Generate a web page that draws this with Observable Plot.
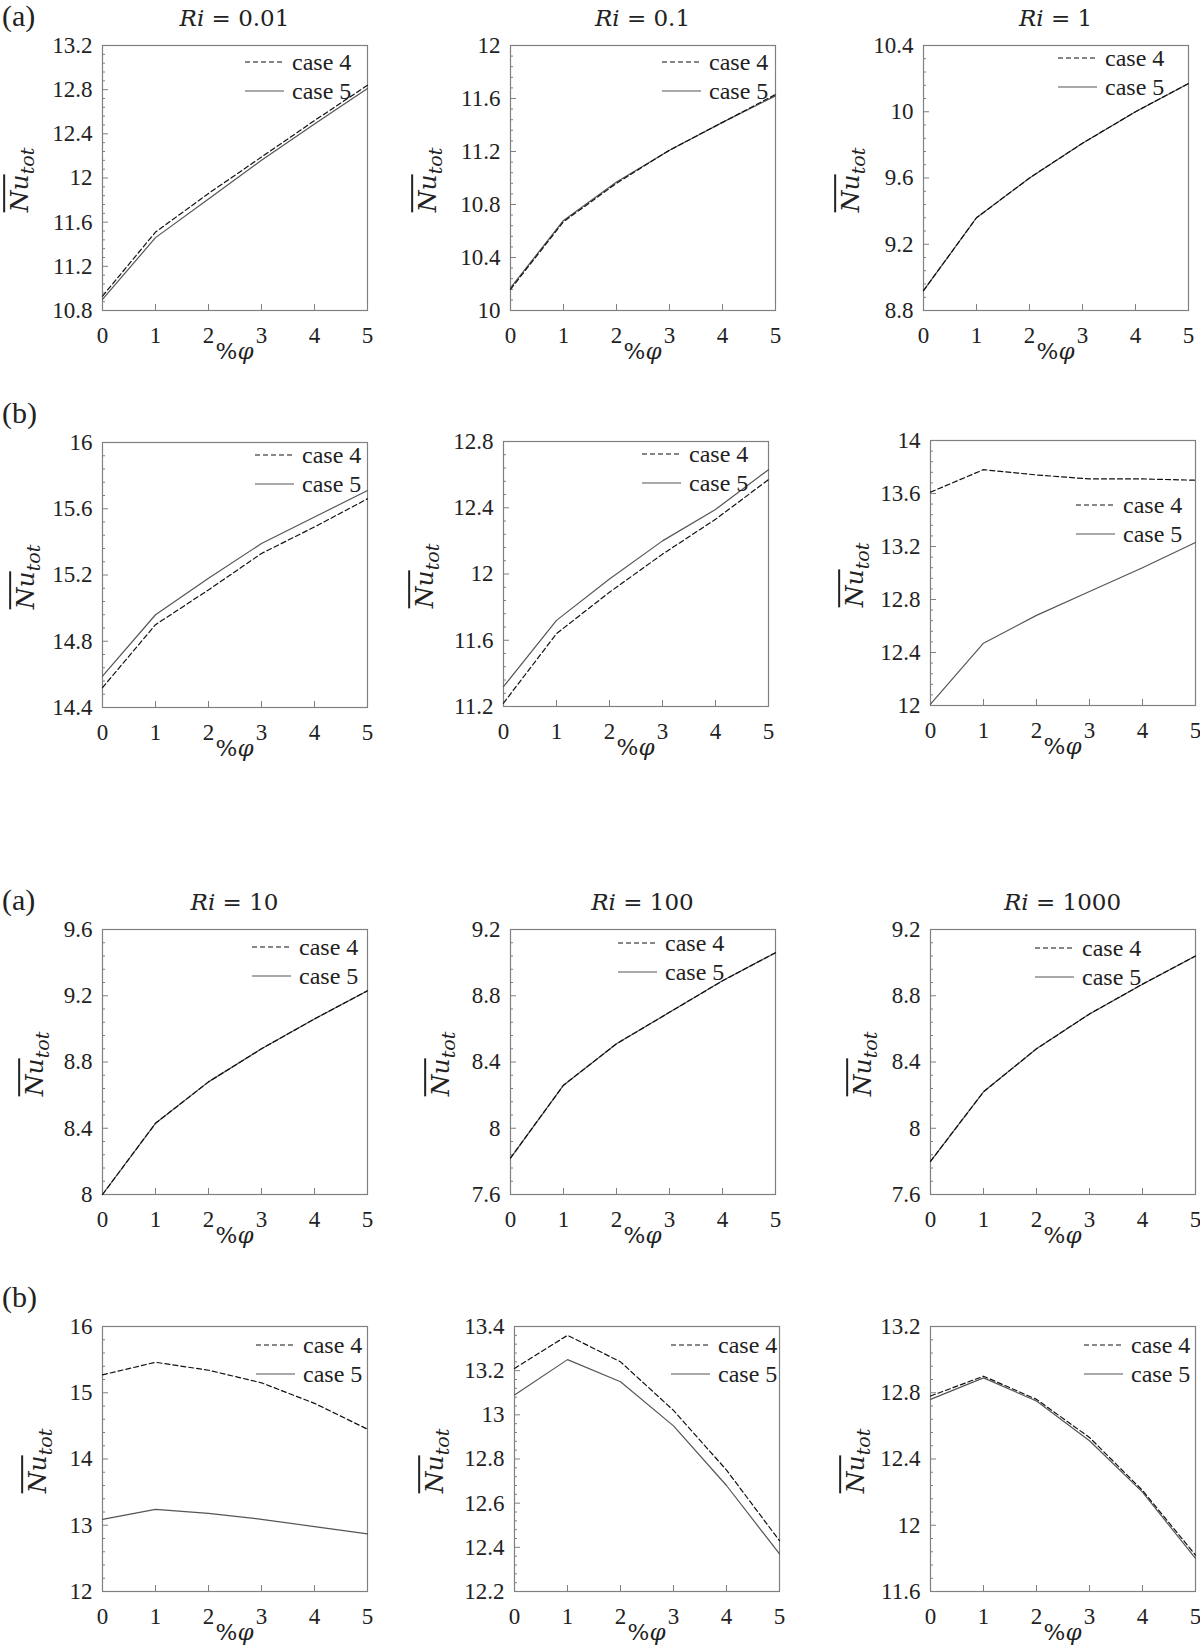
<!DOCTYPE html>
<html><head><meta charset="utf-8">
<script src="https://cdn.jsdelivr.net/npm/d3@7"></script>
<script src="https://cdn.jsdelivr.net/npm/@observablehq/plot@0.6"></script>
<style>
body{margin:0;background:#fff;}
#page{position:relative;width:1200px;height:1648px;overflow:hidden;background:#fff;}
.ylab{position:absolute;transform:translate(-50%,-50%) rotate(-90deg);font-family:"DejaVu Serif",serif;font-style:italic;font-size:25px;line-height:1;white-space:nowrap;color:#222;}
.ylab .ov{text-decoration:overline;text-decoration-thickness:1.5px;}
.ylab sub{font-size:19px;vertical-align:-0.3em;}
</style></head><body><div id="page"></div>
<script>
// ---------- data ----------
const phi = [0, 1, 2, 3, 4, 5];
const xTicks = [0, 1, 2, 3, 4, 5];
const riLabels = ["0.01", "0.1", "1", "10", "100", "1000"];
const legendNames = ["case 4", "case 5"];

const ri001a_case4 = [10.93, 11.51, 11.86, 12.19, 12.52, 12.84];
const ri001a_case5 = [10.90, 11.46, 11.81, 12.16, 12.49, 12.81];
const ri01a_case4  = [10.16, 10.67, 10.96, 11.21, 11.42, 11.63];
const ri01a_case5  = [10.17, 10.68, 10.97, 11.21, 11.42, 11.62];
const ri1a_case4   = [8.92, 9.36, 9.60, 9.81, 10.00, 10.17];
const ri1a_case5   = [8.92, 9.36, 9.60, 9.81, 10.00, 10.17];

const ri001b_case4 = [14.52, 14.90, 15.11, 15.33, 15.49, 15.66];
const ri001b_case5 = [14.59, 14.96, 15.18, 15.39, 15.55, 15.71];
const ri01b_case4  = [11.22, 11.64, 11.89, 12.12, 12.33, 12.57];
const ri01b_case5  = [11.32, 11.72, 11.97, 12.20, 12.39, 12.63];
const ri1b_case4   = [13.61, 13.78, 13.74, 13.71, 13.71, 13.70];
const ri1b_case5   = [12.01, 12.47, 12.68, 12.86, 13.04, 13.23];

const ri10a_case4   = [8.00, 8.43, 8.68, 8.88, 9.06, 9.23];
const ri10a_case5   = [8.00, 8.43, 8.68, 8.88, 9.06, 9.23];
const ri100a_case4  = [7.82, 8.26, 8.51, 8.70, 8.89, 9.06];
const ri100a_case5  = [7.82, 8.26, 8.51, 8.70, 8.89, 9.06];
const ri1000a_case4 = [7.80, 8.22, 8.48, 8.69, 8.87, 9.04];
const ri1000a_case5 = [7.80, 8.22, 8.48, 8.69, 8.87, 9.04];

const ri10b_case4   = [15.27, 15.46, 15.34, 15.15, 14.84, 14.45];
const ri10b_case5   = [13.09, 13.24, 13.18, 13.09, 12.98, 12.87];
const ri100b_case4  = [13.21, 13.36, 13.24, 13.02, 12.75, 12.43];
const ri100b_case5  = [13.09, 13.25, 13.15, 12.95, 12.68, 12.37];
const ri1000b_case4 = [12.78, 12.90, 12.76, 12.53, 12.21, 11.82];
const ri1000b_case5 = [12.76, 12.89, 12.75, 12.51, 12.20, 11.80];

const yt_ri001a  = [10.8, 11.2, 11.6, 12, 12.4, 12.8, 13.2];
const yt_ri01a   = [10, 10.4, 10.8, 11.2, 11.6, 12];
const yt_ri1a    = [8.8, 9.2, 9.6, 10, 10.4];
const yt_ri001b  = [14.4, 14.8, 15.2, 15.6, 16];
const yt_ri01b   = [11.2, 11.6, 12, 12.4, 12.8];
const yt_ri1b    = [12, 12.4, 12.8, 13.2, 13.6, 14];
const yt_ri10a   = [8, 8.4, 8.8, 9.2, 9.6];
const yt_ri100a  = [7.6, 8, 8.4, 8.8, 9.2];
const yt_ri1000a = [7.6, 8, 8.4, 8.8, 9.2];
const yt_ri10b   = [12, 13, 14, 15, 16];
const yt_ri100b  = [12.2, 12.4, 12.6, 12.8, 13, 13.2, 13.4];
const yt_ri1000b = [11.6, 12, 12.4, 12.8, 13.2];

// ---------- layout ----------
const SERIF = "Liberation Serif, Times New Roman, Tinos, Nimbus Roman, DejaVu Serif, serif";
const FS = 265;               // frame size (px)
const ML = 100, MT = 20, MR = 14, MB = 52;
const panels = [
  {c4: ri001a_case4, c5: ri001a_case5, yt: yt_ri001a, title: 0, letter: "(a)", fx: 102, fy: 45,  lx: -122, ty: 17, ylx: -80},
  {c4: ri01a_case4,  c5: ri01a_case5,  yt: yt_ri01a,  title: 1, fx: 510, fy: 45,  lx: -113, ty: 17, ylx: -80},
  {c4: ri1a_case4,   c5: ri1a_case5,   yt: yt_ri1a,   title: 2, fx: 923, fy: 45,  lx: -130, ty: 13, ylx: -70},
  {c4: ri001b_case4, c5: ri001b_case5, yt: yt_ri001b, letter: "(b)", fx: 102, fy: 442, lx: -112, ty: 13, ylx: -74},
  {c4: ri01b_case4,  c5: ri01b_case5,  yt: yt_ri01b,  fx: 503, fy: 441, lx: -126, ty: 13, ylx: -76},
  {c4: ri1b_case4,   c5: ri1b_case5,   yt: yt_ri1b,   fx: 930, fy: 440, lx: -119, ty: 65, ylx: -73},
  {c4: ri10a_case4,  c5: ri10a_case5,  yt: yt_ri10a,  title: 3, letter: "(a)", fx: 102, fy: 929, lx: -115, ty: 18, ylx: -65},
  {c4: ri100a_case4, c5: ri100a_case5, yt: yt_ri100a, title: 4, fx: 510, fy: 929, lx: -157, ty: 14, ylx: -67},
  {c4: ri1000a_case4,c5: ri1000a_case5,yt: yt_ri1000a,title: 5, fx: 930, fy: 929, lx: -160, ty: 19, ylx: -65},
  {c4: ri10b_case4,  c5: ri10b_case5,  yt: yt_ri10b,  letter: "(b)", fx: 102, fy: 1326, lx: -111, ty: 19, ylx: -62},
  {c4: ri100b_case4, c5: ri100b_case5, yt: yt_ri100b, fx: 514, fy: 1326, lx: -108, ty: 19, ylx: -77},
  {c4: ri1000b_case4,c5: ri1000b_case5,yt: yt_ri1000b,fx: 930, fy: 1326, lx: -111, ty: 19, ylx: -72}
];

const FRAME = "#808080", C4 = "#111", C5 = "#555", TXT = "#222";
const page = d3.select("#page");

panels.forEach(p => {
  const rows4 = phi.map((x, i) => ({phi: x, nu: p.c4[i]}));
  const rows5 = phi.map((x, i) => ({phi: x, nu: p.c5[i]}));
  const minor = [];
  for (let i = 0; i < p.yt.length - 1; i++) {
    const a = p.yt[i], b = p.yt[i + 1];
    for (let k = 1; k < 5; k++) minor.push(a + (b - a) * k / 5);
  }
  const chart = Plot.plot({
    width: ML + FS + MR, height: MT + FS + MB,
    marginLeft: ML, marginTop: MT, marginRight: MR, marginBottom: MB,
    style: {background: "transparent", fontFamily: SERIF, fontSize: "23px", color: TXT, overflow: "visible"},
    x: {domain: [0, 5], label: null},
    y: {domain: [p.yt[0], p.yt[p.yt.length - 1]], label: null},
    marks: [
      Plot.frame({stroke: FRAME, strokeWidth: 1.2}),
      Plot.tickY(minor, {y: d => d, insetRight: FS - 3, stroke: FRAME}),
      Plot.tickY(p.yt, {y: d => d, insetRight: FS - 6, stroke: FRAME}),
      Plot.tickX(xTicks, {x: d => d, insetTop: FS - 6, stroke: FRAME}),
      Plot.axisY(p.yt, {tickSize: 0, tickPadding: 10, tickFormat: d => String(d), label: null, fontFamily: SERIF, fontSize: 23}),
      Plot.axisX(xTicks, {tickSize: 0, tickPadding: 16, tickFormat: d => String(d), label: null, fontFamily: SERIF, fontSize: 23}),
      Plot.line(rows5, {x: "phi", y: "nu", stroke: C5, strokeWidth: 1.2}),
      Plot.line(rows4, {x: "phi", y: "nu", stroke: C4, strokeWidth: 1.2, strokeDasharray: "5,3"})
    ]
  });
  d3.select(chart).style("position", "absolute").style("left", (p.fx - ML) + "px").style("top", (p.fy - MT) + "px")
    .style("font-family", SERIF);
  d3.select(chart).selectAll("text").style("font-family", SERIF);
  page.node().appendChild(chart);

  // y label (HTML, with overline)
  page.append("div").attr("class", "ylab")
    .style("left", (p.fx + p.ylx) + "px").style("top", (p.fy + 135) + "px")
    .html('<span class="ov">Nu</span><sub>tot</sub>');
});

// overlay: titles, letters, legends, x labels
const ov = page.append("svg").attr("width", 1200).attr("height", 1648)
  .style("position", "absolute").style("left", 0).style("top", 0).style("pointer-events", "none");

panels.forEach(p => {
  const right = p.fx + FS, cx = p.fx + FS / 2;
  legendNames.forEach((name, i) => {
    const y = p.fy + p.ty + i * 29;
    ov.append("line").attr("x1", right + p.lx).attr("x2", right + p.lx + 39)
      .attr("y1", y).attr("y2", y)
      .attr("stroke", i === 0 ? C4 : C5).attr("stroke-width", 1.2)
      .attr("stroke-dasharray", i === 0 ? "5,3" : null);
    ov.append("text").attr("x", right + p.lx + 47).attr("y", y)
      .attr("dominant-baseline", "central")
      .style("font-family", SERIF).attr("font-size", 24).attr("fill", TXT)
      .text(name);
  });
  const xl = ov.append("text").attr("x", cx).attr("y", p.fy + FS + 41)
    .attr("text-anchor", "middle").attr("dominant-baseline", "central")
    .style("font-family", "DejaVu Serif, serif").attr("font-size", 23).attr("fill", TXT);
  xl.append("tspan").text("%");
  xl.append("tspan").attr("font-style", "italic").text("φ");
  if (p.title !== undefined) {
    const t = ov.append("text").attr("x", cx).attr("y", p.fy - 27)
      .attr("text-anchor", "middle").attr("dominant-baseline", "central")
      .style("font-family", "DejaVu Serif, serif").attr("font-size", 23).attr("fill", TXT);
    t.append("tspan").attr("font-style", "italic").text("Ri");
    t.append("tspan").text(" = " + riLabels[p.title]);
  }
  if (p.letter) {
    ov.append("text").attr("x", 2).attr("y", p.fy - 30)
      .attr("dominant-baseline", "central")
      .style("font-family", SERIF).attr("font-size", 30).attr("fill", TXT)
      .text(p.letter);
  }
});
</script></body></html>
